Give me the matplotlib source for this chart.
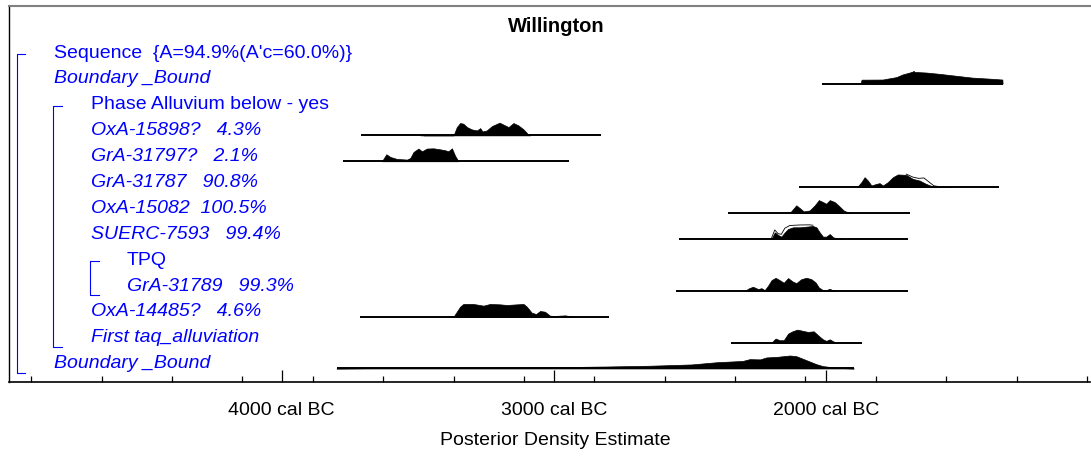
import numpy as np
import matplotlib
matplotlib.use('Agg')
import matplotlib.pyplot as plt

plt.rcParams['font.family'] = ['Liberation Sans Narrow', 'Liberation Sans', 'DejaVu Sans']

# 行标签 (OxCal 模型结构)
labels = ['Sequence  {A=94.9%(A\'c=60.0%)}', 'Boundary _Bound', 'Phase Alluvium below - yes',
          'OxA-15898?   4.3%', 'GrA-31797?   2.1%', 'GrA-31787   90.8%', 'OxA-15082  100.5%',
          'SUERC-7593   99.4%', 'TPQ', 'GrA-31789   99.3%', 'OxA-14485?   4.6%',
          'First taq_alluviation', 'Boundary _Bound']
italic = [False, True, False, True, True, True, True, True, False, True, True, True, True]
indent = [0, 0, 1, 1, 1, 1, 1, 1, 2, 2, 1, 1, 0]

# 分布范围 (年, 负值 = cal BC)
line_start = {1: -2013, 3: -3707, 4: -3775, 5: -2099, 6: -2361, 7: -2539, 9: -2551, 10: -3711, 11: -2347, 12: -3798}
line_end = {1: -1348, 3: -2827, 4: -2943, 5: -1365, 6: -1690, 7: -1698, 9: -1700, 10: -2796, 11: -1868, 12: -1898}

# 后验概率密度 (相对高度)
bnd_top_yr = [-1873, -1869, -1792, -1741, -1719, -1693, -1682, -1678, -1675, -1631, -1583, -1521, -1463, -1400, -1352, -1351]
bnd_top_p = [0, 0.30, 0.31, 0.50, 0.70, 0.85, 0.92, 0.98, 0.90, 0.85, 0.75, 0.60, 0.46, 0.38, 0.31, 0]

oxa15898_yr = [-3490, -3484, -3478, -3368, -3356, -3344, -3332, -3319, -3301, -3282, -3270, -3262, -3246, -3227,
               -3199, -3179, -3166, -3148, -3130, -3111, -3093, -3087]
oxa15898_p = [0, 0.08, 0, 0, 0.64, 0.95, 0.90, 0.64, 0.46, 0.38, 0.56, 0.30, 0.38, 0.72,
              0.98, 0.77, 0.64, 0.95, 0.77, 0.46, 0.05, 0]

gra31797_yr = [-3631, -3615, -3600, -3576, -3539, -3527, -3515, -3497, -3484, -3466, -3442, -3417, -3399, -3387,
               -3374, -3362, -3350]
gra31797_p = [0, 0.54, 0.33, 0.18, 0.13, 0.25, 0.72, 0.98, 0.77, 0.98, 1.0, 0.92, 0.85, 0.77, 1.0, 0.41, 0]

gra31787_yr = [-1886, -1870, -1858, -1846, -1833, -1815, -1803, -1791, -1773, -1754, -1736, -1705, -1681, -1656,
               -1632, -1607, -1595, -1540]
gra31787_p = [0, 0.38, 0.77, 0.51, 0.13, 0.25, 0.31, 0.13, 0.38, 0.77, 0.98, 0.95, 0.64, 0.51, 0.25, 0.05, 0.02, 0]
gra31787_prior_yr = [-1705, -1681, -1660, -1640, -1625, -1604, -1590]
gra31787_prior_p = [0.95, 0.72, 0.62, 0.65, 0.40, 0.05, 0]

oxa15082_yr = [-2133, -2109, -2096, -2082, -2060, -2041, -2026, -2011, -1999, -1986, -1968, -1950, -1935, -1919, -1901]
oxa15082_p = [0, 0.60, 0.38, 0.13, 0.20, 0.60, 1.0, 0.85, 0.72, 1.0, 0.85, 0.51, 0.20, 0.05, 0]

suerc_yr = [-2200, -2188, -2176, -2164, -2151, -2139, -2121, -2096, -2072, -2048, -2035, -2023, -2011, -1999,
            -1986, -1974, -1956, -1943]
suerc_p = [0, 0.51, 0.31, 0.18, 0.51, 0.77, 0.90, 0.90, 0.95, 1.0, 0.90, 0.51, 0.18, 0.18, 0.38, 0.13, 0.03, 0]
suerc_prior_yr = [-2200, -2188, -2176, -2164, -2151, -2133, -2096, -2060, -2048]
suerc_prior_p = [0, 0.64, 0.35, 0.30, 0.77, 0.98, 1.02, 1.03, 1.0]

gra31789_yr = [-2298, -2282, -2268, -2249, -2237, -2225, -2213, -2200, -2185, -2170, -2155, -2139, -2123, -2109,
               -2090, -2072, -2054, -2038, -2026, -2011, -1999, -1986, -1974, -1961]
gra31789_p = [0, 0.20, 0.31, 0.13, 0.20, 0.05, 0.38, 0.82, 1.0, 0.82, 0.62, 0.98, 0.72, 0.59,
              0.90, 1.0, 0.90, 0.64, 0.25, 0.05, 0.05, 0.15, 0.03, 0]

oxa14485_yr = [-3368, -3344, -3332, -3295, -3258, -3234, -3197, -3172, -3136, -3111, -3099, -3081, -3065, -3050,
               -3032, -3014, -3001, -2975, -2958, -2928]
oxa14485_p = [0, 0.77, 0.98, 0.98, 0.85, 0.98, 0.95, 0.90, 0.95, 0.98, 0.77, 0.31, 0.20, 0.44,
              0.38, 0.08, 0.05, 0.08, 0.10, 0]

first_taq_yr = [-2200, -2185, -2170, -2155, -2139, -2123, -2105, -2084, -2066, -2045, -2029, -2011, -1999, -1986,
                -1974, -1962]
first_taq_p = [0, 0.31, 0.18, 0.18, 0.69, 0.87, 1.0, 0.90, 0.82, 0.87, 0.56, 0.25, 0.13, 0.25, 0.10, 0]

bnd_bot_yr = [-3798, -3694, -3315, -3063, -2810, -2647, -2494, -2402, -2306, -2280, -2242, -2219, -2178, -2133,
              -2109, -2072, -2035, -2011, -1962, -1926, -1898]
bnd_bot_p = [0, 0.02, 0.06, 0.08, 0.15, 0.21, 0.31, 0.48, 0.58, 0.72, 0.70, 0.85, 0.90, 1.0,
             0.95, 0.64, 0.33, 0.18, 0.06, 0.02, 0]

posteriors = {1: (bnd_top_yr, bnd_top_p), 3: (oxa15898_yr, oxa15898_p), 4: (gra31797_yr, gra31797_p),
              5: (gra31787_yr, gra31787_p), 6: (oxa15082_yr, oxa15082_p), 7: (suerc_yr, suerc_p),
              9: (gra31789_yr, gra31789_p), 10: (oxa14485_yr, oxa14485_p), 11: (first_taq_yr, first_taq_p),
              12: (bnd_bot_yr, bnd_bot_p)}
priors = {5: (gra31787_prior_yr, gra31787_prior_p), 7: (suerc_prior_yr, suerc_prior_p)}

# 括号: (起始行, 结束行, 层级)
brackets = [(0, 12, 0), (2, 11, 1), (8, 9, 2)]

major_ticks = [-4000, -3000, -2000]
major_labels = ['4000 cal BC', '3000 cal BC', '2000 cal BC']

W, H = 1091, 457
fig = plt.figure(figsize=(W / 100, H / 100), dpi=100)
ax_l, ax_r, ax_t, ax_b = 9.3, 1090, 5.7, 381.5
ax = fig.add_axes([ax_l / W, 1 - ax_b / H, (ax_r - ax_l) / W, (ax_b - ax_t) / H])

row_px, row0 = 25.9, 53
ax.set_xlim(-5000, -1030)
ax.set_ylim((ax_b - row0) / row_px, (ax_t - row0) / row_px)

base_off = 0.18
scale = 0.5
for r, (yr, p) in posteriors.items():
    base = r + base_off
    ax.plot([line_start[r], line_end[r]], [base, base], color='black', lw=1.4, solid_capstyle='butt', zorder=3)
    yr = np.array(yr)
    p = np.array(p)
    ax.fill_between(yr, base, base - p * scale, color='black', lw=0.5, zorder=2)
# 先验分布轮廓
for r, (yr, p) in priors.items():
    base = r + base_off
    ax.plot(yr, base - np.array(p) * scale - 0.03, color='black', lw=0.6, zorder=4)

# 标签
indent_x = [54, 91, 127]
for r, lab in enumerate(labels):
    ax.text((indent_x[indent[r]] - ax_l) / (ax_r - ax_l), r, lab,
            transform=ax.get_yaxis_transform(), color='#0000ff', fontsize=14,
            style='italic' if italic[r] else 'normal', va='center', ha='left')

bx = [16.7, 53.3, 90]
for r0, r1, lvl in brackets:
    x0 = (bx[lvl] - ax_l) / (ax_r - ax_l)
    x1 = (bx[lvl] + 8.5 - ax_l) / (ax_r - ax_l)
    ax.plot([x1, x0, x0, x1], [r0 + 0.05, r0 + 0.05, r1 + 0.36, r1 + 0.36],
            color='#0000ff', lw=0.8, transform=ax.get_yaxis_transform())

# 坐标轴
ax.spines['right'].set_visible(False)
ax.spines['top'].set_color('#808080')
ax.spines['top'].set_linewidth(1.5)
ax.spines['left'].set_linewidth(1.0)
ax.spines['bottom'].set_linewidth(1.2)
ax.set_yticks([])
ax.set_xticks(major_ticks)
ax.set_xticklabels(major_labels, fontsize=14)
ax.set_xticks(np.arange(-4919, -1000, 258.5), minor=True)
ax.tick_params(axis='x', which='major', direction='in', length=8.6, width=0.9, pad=15)
ax.tick_params(axis='x', which='minor', direction='in', length=4.3, width=0.9)
ax.set_xlabel('Posterior Density Estimate', fontsize=14, labelpad=9)
ax.xaxis.label.set_x((555 - ax_l) / (ax_r - ax_l))

fig.text(556 / W, 1 - 27 / H, 'Willington', ha='center', va='center', fontsize=14.5, fontweight='bold')

fig.savefig('out.png', dpi=100)
